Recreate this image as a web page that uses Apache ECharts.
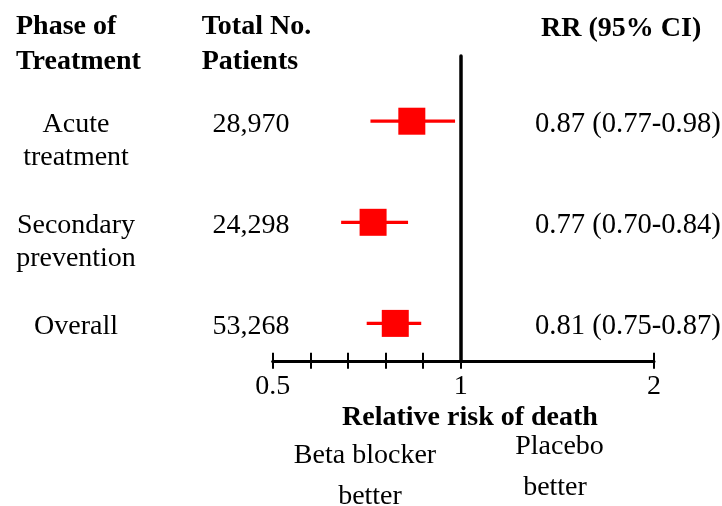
<!DOCTYPE html>
<html>
<head>
<meta charset="utf-8">
<script src="https://cdn.jsdelivr.net/npm/echarts@6/dist/echarts.min.js"></script>
<style>
html,body{margin:0;padding:0;background:#fff;}
#chart{width:722px;height:506px;}
</style>
</head>
<body>
<div id="chart"></div>
<script>
// ---- data ----
var phaseLine1 = ['Acute', 'Secondary', 'Overall'];
var phaseLine2 = ['treatment', 'prevention', ''];
var patients = ['28,970', '24,298', '53,268'];
var ciLabels = ['0.87 (0.77-0.98)', '0.77 (0.70-0.84)', '0.81 (0.75-0.87)'];
// values as drawn in the picture
var rr = [0.87, 0.767, 0.826];
var ciLow = [0.76, 0.682, 0.75];
var ciHigh = [0.985, 0.86, 0.895];
var rows = [0, 1, 2];
var tickLabelsLeft = {0.5: '0.5', 1: '1'};
var tickLabelsRight = {2: '2'};

var FONT = '"Liberation Serif", "Times New Roman", Times, serif';
var chart = echarts.init(document.getElementById('chart'));

var gridTop = 56, gridH = 304.8;
var yMin = -0.645, yMax = 2.37;

function xAxisBase(gridIndex, min, max, interval, labels, inside, main) {
  return {
    type: 'value', gridIndex: gridIndex, min: min, max: max, interval: interval,
    position: 'bottom',
    axisLine: {show: main, onZero: false, lineStyle: {color: '#000', width: 3}},
    axisTick: {show: true, inside: inside, length: 8, lineStyle: {color: '#000', width: 2}},
    axisLabel: {
      show: main, margin: 12, color: '#000', fontSize: 28, fontFamily: FONT,
      showMinLabel: true, showMaxLabel: true,
      formatter: function (v) {
        var k = Math.round(v * 10) / 10;
        return labels[k] !== undefined ? labels[k] : '';
      }
    },
    splitLine: {show: false}
  };
}

var pointData = rows.map(function (r) { return [rr[r], r]; });
var ciData = rows.map(function (r) { return [ciLow[r], ciHigh[r], r]; });

var option = {
  animation: false,
  backgroundColor: '#fff',
  grid: [
    {left: 272.7, top: gridTop, width: 188, height: gridH},
    {left: 460.7, top: gridTop, width: 193.3, height: gridH}
  ],
  xAxis: [
    xAxisBase(0, 0.5, 1, 0.1, tickLabelsLeft, false, true),
    xAxisBase(0, 0.5, 1, 0.1, tickLabelsLeft, true, false),
    xAxisBase(1, 1, 2, 1, tickLabelsRight, false, true),
    xAxisBase(1, 1, 2, 1, tickLabelsRight, true, false)
  ],
  yAxis: [
    {type: 'value', gridIndex: 0, min: yMin, max: yMax, inverse: true, show: false},
    {type: 'value', gridIndex: 1, min: yMin, max: yMax, inverse: true, position: 'left',
     axisLine: {show: true, onZero: false, lineStyle: {color: '#000', width: 3.5}},
     axisTick: {show: false}, axisLabel: {show: false}, splitLine: {show: false}}
  ],
  series: [
    {
      type: 'custom', xAxisIndex: 0, yAxisIndex: 0, data: ciData,
      renderItem: function (params, api) {
        var p1 = api.coord([api.value(0), api.value(2)]);
        var p2 = api.coord([api.value(1), api.value(2)]);
        return {type: 'line', shape: {x1: p1[0], y1: p1[1], x2: p2[0], y2: p2[1]},
                style: {stroke: '#ff0000', lineWidth: 3.3}};
      },
      z: 2
    },
    {
      type: 'scatter', xAxisIndex: 0, yAxisIndex: 0, data: pointData,
      symbol: 'rect', symbolSize: 27, itemStyle: {color: '#ff0000', opacity: 1}, z: 3
    }
  ]
};
chart.setOption(option);

function txt(x, y, s, align, bold, size) {
  return {type: 'text', x: x, y: y, silent: true,
    style: {text: s, fill: '#000', font: (bold ? 'bold ' : '') + (size || 28) + 'px ' + FONT,
            textAlign: align, textVerticalAlign: 'middle'}};
}

var g = [];
g.push(txt(16, 27, 'Phase of', 'left', true));
g.push(txt(16, 62, 'Treatment', 'left', true));
g.push(txt(201.7, 27, 'Total No.', 'left', true));
g.push(txt(201.7, 62, 'Patients', 'left', true));
g.push(txt(541, 28.5, 'RR (95% CI)', 'left', true));
rows.forEach(function (r) {
  var py = chart.convertToPixel({yAxisIndex: 0}, r);
  g.push(txt(76, py + 3, phaseLine1[r], 'center', false));
  if (phaseLine2[r]) g.push(txt(76, py + 36, phaseLine2[r], 'center', false));
  g.push(txt(251, py + 3, patients[r], 'center', false));
  g.push(txt(535, py + 3, ciLabels[r], 'left', false, 28.6));
});
g.push(txt(470, 418, 'Relative risk of death', 'center', true));
g.push(txt(365, 455.5, 'Beta blocker', 'center', false));
g.push(txt(370, 497, 'better', 'center', false));
g.push(txt(559.5, 447, 'Placebo', 'center', false));
g.push(txt(555, 488, 'better', 'center', false));
chart.setOption({graphic: {elements: g}});
</script>
</body>
</html>
